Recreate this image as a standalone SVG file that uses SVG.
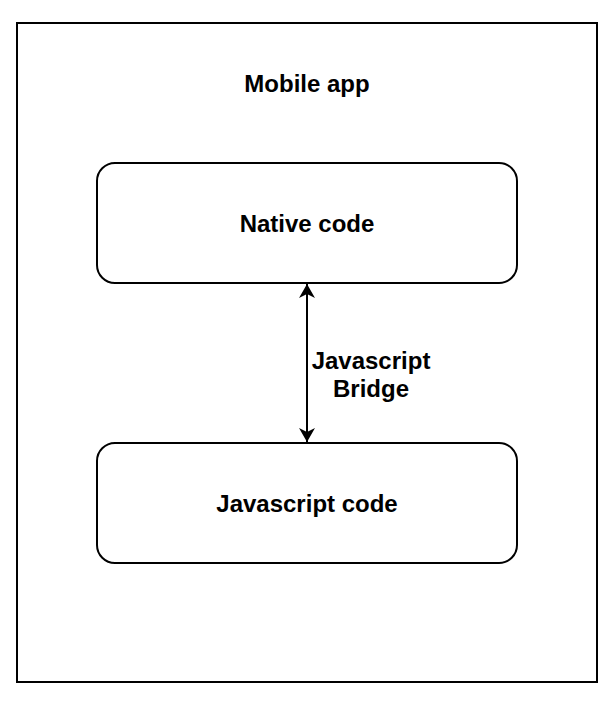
<svg xmlns="http://www.w3.org/2000/svg" width="614" height="702" viewBox="0 0 614 702">
<style>
.box{fill:#fff;stroke:#000;stroke-width:2}
.t{font-family:"Liberation Sans",Arial,sans-serif;font-weight:bold;font-size:24px;fill:#000;text-anchor:middle}
.c{stroke:#000;stroke-width:2;fill:none}
</style>
<defs>
<marker id="ah" viewBox="0 0 14 16" refX="14" refY="8" markerWidth="14" markerHeight="16" markerUnits="userSpaceOnUse" orient="auto-start-reverse">
<path d="M0,0 L14,8 L0,16 L4,8 Z" fill="#000"/>
</marker>
</defs>
<rect width="614" height="702" fill="#fff"/>
<g id="mobile-app">
<rect class="box" x="17" y="23" width="580" height="659"/>
<text class="t" x="307" y="92">Mobile app</text>
</g>
<g id="native-code">
<rect class="box" x="97" y="163" width="420" height="120" rx="18" ry="18"/>
<text class="t" x="307" y="232">Native code</text>
</g>
<g id="javascript-code">
<rect class="box" x="97" y="443" width="420" height="120" rx="18" ry="18"/>
<text class="t" x="307" y="512">Javascript code</text>
</g>
<g id="connectors">
<line class="c" x1="307" y1="284" x2="307" y2="442" marker-start="url(#ah)" marker-end="url(#ah)"/>
<text class="t" x="371" y="369">Javascript</text>
<text class="t" x="371" y="397">Bridge</text>
</g>
</svg>
